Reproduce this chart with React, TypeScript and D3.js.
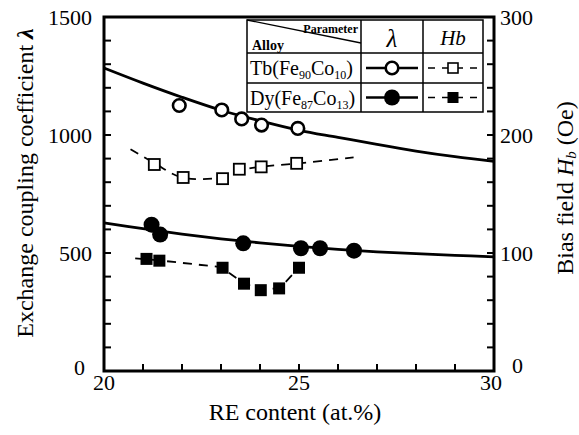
import React from 'react';
import * as d3 from 'd3';

// RE content (at.%) and values
const tbLambdaX = [21.93, 23.02, 23.53, 24.04, 24.97];
const tbLambda = [1125, 1106, 1068, 1042, 1028];
const tbHbX = [21.29, 22.03, 23.04, 23.47, 24.03, 24.94];
const tbHb = [175, 164, 163, 171, 173, 176];

const dyLambdaX = [21.22, 21.44, 23.57, 25.05, 25.54, 26.41];
const dyLambda = [620, 578, 541, 520, 520, 510];
const dyHbX = [21.09, 21.42, 23.04, 23.59, 24.02, 24.49, 25.0];
const dyHb = [95, 93.5, 87.5, 74, 68.5, 70, 87.5];

// fitted guide curves as drawn in the figure
const tbLambdaFitX = [20, 21, 22, 23, 24, 25, 26, 27, 28, 29, 30];
const tbLambdaFit = [1284, 1220, 1160, 1105, 1060, 1020, 990, 960, 932, 908, 888];
const dyLambdaFitX = [20, 21, 22, 23, 24, 25, 26, 27, 28, 29, 30];
const dyLambdaFit = [628, 603, 580, 560, 543, 528, 515, 505, 497, 490, 484];
const tbHbFitX = [20.68, 21.3, 22, 23, 23.5, 24, 25, 26.4];
const tbHbFit = [188, 176, 164, 164, 170, 173, 176, 181];
const dyHbFitX = [20.8, 21.4, 23.0, 23.6, 24.0, 24.5, 25.0, 25.2];
const dyHbFit = [95.5, 93.8, 88, 74, 69.5, 70, 87.5, 92];

const xTickLabels = [20, 25, 30];
const leftTickLabels = [0, 500, 1000, 1500];
const rightTickLabels = [0, 100, 200, 300];

const font = "'Liberation Serif', serif";

const App = () => {
  const x = d3.scaleLinear().domain([20, 30]).range([104, 494]);
  const yL = d3.scaleLinear().domain([0, 1500]).range([371, 17]);
  const yR = d3.scaleLinear().domain([0, 300]).range([371, 17]);

  const makePath = (xs: number[], ys: number[], y: any, curve: any) =>
    d3.line<number>()
      .x(d => x(xs[d]))
      .y(d => y(ys[d]))
      .curve(curve)(xs.map((_, i) => i)) || '';

  const xMinor = d3.range(21, 30);
  const lMinor = d3.range(100, 1500, 100);
  const rMinor = d3.range(20, 300, 20);
  const tick = 7;

  // legend table geometry
  const tL = 247, tC1 = 361, tC2 = 423, tR = 483;
  const tT = 20, tR1 = 53, tR2 = 83, tB = 112;
  const row1 = (tR1 + tR2) / 2, row2 = (tR2 + tB) / 2;

  return (
    <svg width={579} height={435} style={{ position: 'absolute', left: 0, top: 0, background: '#fff', fontFamily: font }}>
      <rect width={579} height={435} fill="#fff" />

      {/* fitted curves */}
      <path d={makePath(tbLambdaFitX, tbLambdaFit, yL, d3.curveCatmullRom)} fill="none" stroke="#000" strokeWidth={2.8} />
      <path d={makePath(dyLambdaFitX, dyLambdaFit, yL, d3.curveCatmullRom)} fill="none" stroke="#000" strokeWidth={2.8} />
      <path d={makePath(tbHbFitX, tbHbFit, yR, d3.curveCatmullRom)} fill="none" stroke="#000" strokeWidth={1.8} strokeDasharray="9 7" />
      <path d={makePath(dyHbFitX, dyHbFit, yR, d3.curveLinear)} fill="none" stroke="#000" strokeWidth={1.8} strokeDasharray="9 7" />

      {/* markers */}
      {tbHbX.map((v, i) => (
        <rect key={'ts' + i} x={x(v) - 5.5} y={yR(tbHb[i]) - 5.5} width={11} height={11} fill="#fff" stroke="#000" strokeWidth={1.8} />
      ))}
      {dyHbX.map((v, i) => (
        <rect key={'ds' + i} x={x(v) - 6} y={yR(dyHb[i]) - 6} width={12} height={12} fill="#000" />
      ))}
      {tbLambdaX.map((v, i) => (
        <circle key={'tc' + i} cx={x(v)} cy={yL(tbLambda[i])} r={6.3} fill="#fff" stroke="#000" strokeWidth={2.6} />
      ))}
      {dyLambdaX.map((v, i) => (
        <circle key={'dc' + i} cx={x(v)} cy={yL(dyLambda[i])} r={8} fill="#000" />
      ))}

      {/* frame and ticks */}
      <rect x={104} y={17} width={390} height={354} fill="none" stroke="#000" strokeWidth={3} />
      {xMinor.map(v => <line key={'xt' + v} x1={x(v)} x2={x(v)} y1={371} y2={371 - tick} stroke="#000" strokeWidth={2} />)}
      {lMinor.map(v => <line key={'lt' + v} x1={104} x2={104 + tick} y1={yL(v)} y2={yL(v)} stroke="#000" strokeWidth={2} />)}
      {rMinor.map(v => <line key={'rt' + v} x1={494} x2={494 - tick} y1={yR(v)} y2={yR(v)} stroke="#000" strokeWidth={2} />)}

      {/* tick labels */}
      {xTickLabels.map(v => (
        <text key={'xl' + v} x={x(v) - (v === 30 ? 3 : 0)} y={390} fontSize={22} textAnchor="middle">{v}</text>
      ))}
      {leftTickLabels.map(v => (
        <text key={'ll' + v} x={v === 0 ? 85 : 92} y={yL(v) + (v === 0 ? 4 : 8)} fontSize={22} textAnchor="end">{v}</text>
      ))}
      {rightTickLabels.map(v => (
        <text key={'rl' + v} x={v === 0 ? 512 : 500} y={yR(v) + (v === 0 ? 2 : 8)} fontSize={22} textAnchor="start">{v}</text>
      ))}

      {/* axis titles */}
      <text x={295} y={420} fontSize={24} textAnchor="middle">RE content (at.%)</text>
      <text transform="translate(33,183) rotate(-90)" fontSize={24} textAnchor="middle">
        Exchange coupling coefficient <tspan fontWeight="bold" fontStyle="italic">λ</tspan>
      </text>
      <text transform="translate(573,188) rotate(-90)" fontSize={24} textAnchor="middle">
        Bias field  <tspan fontStyle="italic">H</tspan><tspan fontStyle="italic" fontSize={15} dy={3}>b</tspan><tspan dy={-3}> (Oe)</tspan>
      </text>

      {/* legend table */}
      <g>
        <rect x={tL} y={tT} width={tR - tL} height={tB - tT} fill="#fff" stroke="#000" strokeWidth={1.5} />
        <line x1={tL} x2={tR} y1={tR1} y2={tR1} stroke="#000" strokeWidth={1.5} />
        <line x1={tL} x2={tR} y1={tR2} y2={tR2} stroke="#000" strokeWidth={1.5} />
        <line x1={tC1} x2={tC1} y1={tT} y2={tB} stroke="#000" strokeWidth={1.5} />
        <line x1={tC2} x2={tC2} y1={tT} y2={tB} stroke="#000" strokeWidth={1.5} />
        <line x1={tL} x2={tC1} y1={tT} y2={43} stroke="#000" strokeWidth={1.3} />
        <text x={358} y={33} fontSize={12} fontWeight="bold" textAnchor="end">Parameter</text>
        <text x={252} y={50} fontSize={14} fontWeight="bold">Alloy</text>
        <text x={(tC1 + tC2) / 2} y={47} fontSize={25} fontStyle="italic" textAnchor="middle">λ</text>
        <text x={(tC2 + tR) / 2} y={45} fontSize={21} fontStyle="italic" textAnchor="middle">Hb</text>

        <text x={250} y={row1 + 7} fontSize={20}>
          Tb(Fe<tspan fontSize={12} dy={4}>90</tspan><tspan dy={-4}>Co</tspan><tspan fontSize={12} dy={4}>10</tspan><tspan dy={-4}>)</tspan>
        </text>
        <text x={250} y={row2 + 7} fontSize={20}>
          Dy(Fe<tspan fontSize={12} dy={4}>87</tspan><tspan dy={-4}>Co</tspan><tspan fontSize={12} dy={4}>13</tspan><tspan dy={-4}>)</tspan>
        </text>

        <line x1={366} x2={418} y1={row1} y2={row1} stroke="#000" strokeWidth={2.5} />
        <circle cx={392} cy={row1} r={6.3} fill="#fff" stroke="#000" strokeWidth={2.6} />
        <line x1={366} x2={418} y1={row2} y2={row2} stroke="#000" strokeWidth={2.5} />
        <circle cx={392} cy={row2} r={8} fill="#000" />

        <line x1={428} x2={479} y1={row1} y2={row1} stroke="#000" strokeWidth={1.6} strokeDasharray="7 7" />
        <rect x={453 - 5} y={row1 - 5} width={10} height={10} fill="#fff" stroke="#000" strokeWidth={1.6} />
        <line x1={428} x2={479} y1={row2} y2={row2} stroke="#000" strokeWidth={1.6} strokeDasharray="7 7" />
        <rect x={453 - 5.5} y={row2 - 5.5} width={11} height={11} fill="#000" />
      </g>
    </svg>
  );
};

export default App;
